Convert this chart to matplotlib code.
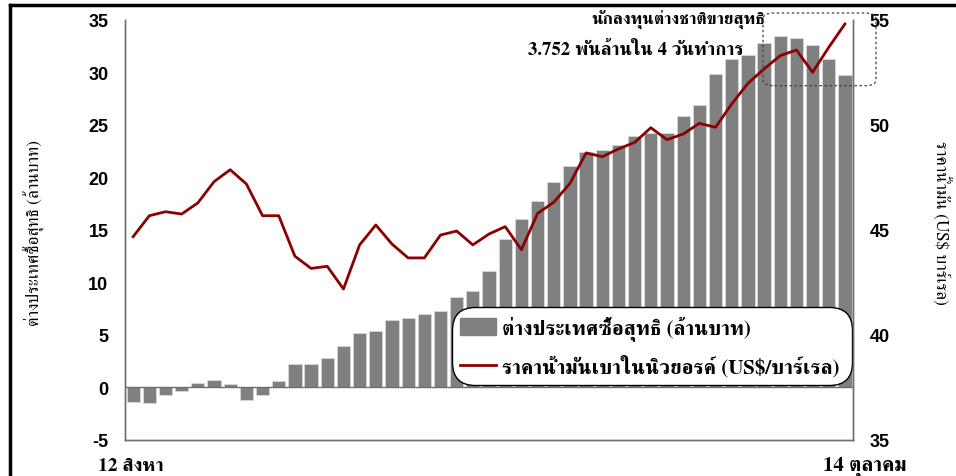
import matplotlib
matplotlib.use("Agg")
import matplotlib.pyplot as plt
from matplotlib import font_manager as fm
from matplotlib.ft2font import FT2Font
from matplotlib.patches import FancyBboxPatch, Rectangle
from matplotlib.lines import Line2D

# ---------------- data ----------------
net_buy = [-1.36, -1.49, -0.73, -0.38, 0.41, 0.69, 0.31, -1.17, -0.76, 0.58,
           2.25, 2.25, 2.83, 3.97, 5.17, 5.42, 6.47, 6.63, 7.04, 7.30,
           8.60, 9.20, 11.07, 14.10, 16.08, 17.76, 19.60, 21.09, 22.40, 22.65,
           23.09, 23.95, 24.26, 24.23, 25.85, 26.93, 29.88, 31.24, 31.62, 32.79,
           33.52, 33.30, 32.64, 31.30, 29.72]
oil_price = [44.68, 45.68, 45.87, 45.76, 46.29, 47.30, 47.87, 47.19, 45.68, 45.68,
             43.75, 43.17, 43.27, 42.19, 44.29, 45.24, 44.33, 43.67, 43.67, 44.76,
             44.95, 44.29, 44.81, 45.16, 44.06, 45.79, 46.32, 47.22, 48.67, 48.49,
             48.86, 49.17, 49.87, 49.30, 49.57, 50.08, 49.89, 51.00, 51.98, 52.67,
             53.30, 53.57, 52.51, 53.70, 54.81]
left_ticks = [-5, 0, 5, 10, 15, 20, 25, 30, 35]
right_ticks = [35, 40, 45, 50, 55]
start_label = "12 สิงหา"
end_label = "14 ตุลาคม"
bar_label = "ต่างประเทศซื้อสุทธิ (ล้านบาท)"
line_label = "ราคาน้ำมันเบาในนิวยอรค์ (US$/บาร์เรล)"
left_ylabel = "ต่างประเทศซื้อสุทธิ (ล้านบาท)"
right_ylabel = "ราคาน้ำมัน (US$ บาร์เรล)"
note_line1 = "นักลงทุนต่างชาติขายสุทธิ"
note_line2 = "3.752 พันล้านใน 4 วันทำการ"

# ---------------- fonts ----------------
def thai_fonts():
    found = []
    for f in fm.fontManager.ttflist:
        try:
            cm = FT2Font(f.fname).get_charmap()
        except Exception:
            continue
        if 0x0E01 in cm and 0x0E49 in cm:
            found.append(f)
    return found

tf = thai_fonts()
def score(f):
    s = 0
    n = f.name.lower()
    if "serif" in n and "sans" not in n:
        s += 2
    if f.weight in ("bold", 700) or (isinstance(f.weight, int) and f.weight >= 600):
        s += 1
    return -s
tf.sort(key=score)
thai_family = tf[0].name if tf else "DejaVu Sans"
families = [thai_family, "DejaVu Sans"]
num_font = {"family": ["Liberation Sans", "DejaVu Sans"], "weight": "bold"}

# ---------------- figure ----------------
fig = plt.figure(figsize=(9.56, 4.77), dpi=100)
ax = fig.add_axes([0.1308, 0.0755, 0.7615, 0.8805])
ax2 = ax.twinx()

x = list(range(len(net_buy)))
ax.bar(x, net_buy, width=0.82, color="#808080", edgecolor="#d9d9d9",
       linewidth=0.6, zorder=2)
ax.axhline(0, color="#6e6e6e", lw=1.0, zorder=3)
ax.set_ylim(-5, 35)
ax.set_xlim(-0.5, len(net_buy) - 0.5)
ax.set_yticks(left_ticks)
ax.set_yticklabels([str(t) for t in left_ticks], fontdict=num_font, fontsize=13)
ax.set_xticks([])
ax.tick_params(axis="y", length=0, pad=12)

ax2.plot(x, oil_price, color="#8B0000", lw=2.0, zorder=4)
ax2.set_ylim(35, 55)
ax2.set_yticks(right_ticks)
ax2.set_yticklabels([str(t) for t in right_ticks], fontdict=num_font, fontsize=13)
ax2.tick_params(axis="y", length=0, pad=12)

for a in (ax, ax2):
    a.spines["top"].set_visible(False)
    for s in ("left", "right", "bottom"):
        a.spines[s].set_color("#6e6e6e")
        a.spines[s].set_linewidth(1.0)

ax.set_ylabel(left_ylabel, family=families, fontsize=12.5, va="center",
              ha="center")
ax.yaxis.set_label_coords(-0.124, 0.495)
ax2.set_ylabel(right_ylabel, family=families, fontsize=12.5, rotation=-90,
               va="center", ha="center")
ax2.yaxis.set_label_coords(1.12, 0.52)

# x end labels
fig.text(0.102, 0.022, start_label, family=families, fontsize=14,
         weight="bold", ha="left", va="center")
fig.text(0.948, 0.022, end_label, family=families, fontsize=15,
         weight="bold", ha="right", va="center")

# annotation
fig.text(0.709, 0.960, note_line1, family=families, fontsize=12.5,
         weight="bold", ha="center", va="center")
fig.text(0.665, 0.895, note_line2, family=families, fontsize=13.5,
         weight="bold", ha="center", va="center")

# dotted rounded box
box = FancyBboxPatch((763 / 956, 1 - 86.7 / 477), (876 - 763) / 956,
                     (86.7 - 14) / 477, boxstyle="round,pad=0,rounding_size=0.012",
                     transform=fig.transFigure, fill=False, ec="#404040",
                     lw=0.9, ls=(0, (2, 2)), zorder=10)
fig.add_artist(box)

# legend
handles = [Rectangle((0, 0), 1, 1, fc="#808080", ec="#808080"),
           Line2D([], [], color="#8B0000", lw=2)]
leg = ax.legend(handles, [bar_label, line_label], loc="center left",
                bbox_to_anchor=(0.449, 0.131, 0.549, 0.186), mode="expand",
                prop={"family": families, "weight": "bold", "size": 15},
                frameon=True, fancybox=True, handlelength=1.7,
                handleheight=0.9, borderaxespad=0, labelspacing=0.65,
                borderpad=0.4, handletextpad=0.3)
fr = leg.get_frame()
fr.set_edgecolor("black")
fr.set_linewidth(1.0)
fr.set_facecolor("white")
fr.set_alpha(1)
fr.set_boxstyle("round,pad=0,rounding_size=1.1")
leg.set_zorder(20)

# outer frame (top and left edges)
fig.add_artist(Line2D([0.0105, 1.0], [0.988, 0.988], transform=fig.transFigure,
                      color="black", lw=2.5))
fig.add_artist(Line2D([0.0105, 0.0105], [0.0, 0.988], transform=fig.transFigure,
                      color="black", lw=2.5))

fig.savefig("out.png", dpi=100)
